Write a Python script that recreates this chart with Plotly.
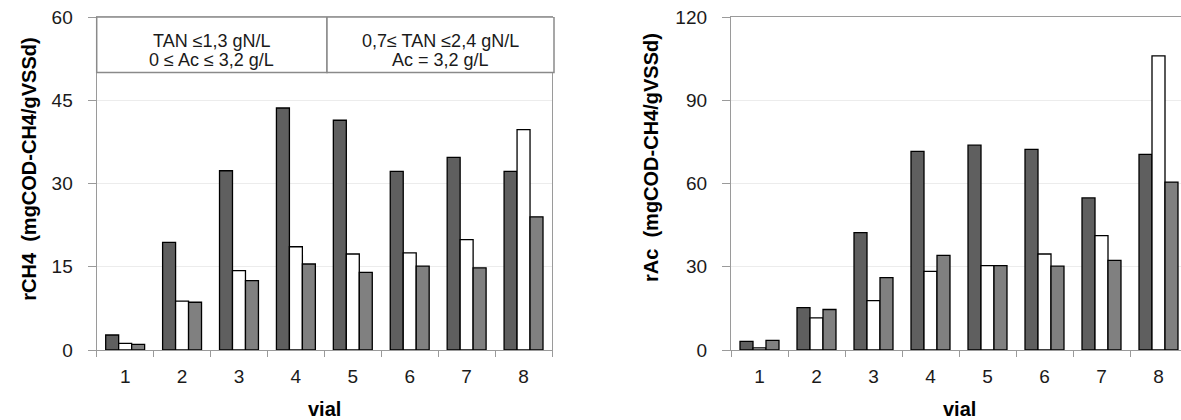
import plotly.graph_objects as go

vials = ["1", "2", "3", "4", "5", "6", "7", "8"]

# Left panel: rCH4 (mgCOD-CH4/gVSSd)
rch4_dark = [2.7, 19.4, 32.3, 43.6, 41.4, 32.2, 34.7, 32.2]
rch4_white = [1.2, 8.8, 14.3, 18.6, 17.3, 17.5, 19.9, 39.7]
rch4_gray = [1.0, 8.6, 12.5, 15.5, 14.0, 15.1, 14.8, 24.0]

# Right panel: rAc (mgCOD-CH4/gVSSd)
rac_dark = [3.1, 15.3, 42.3, 71.6, 73.8, 72.3, 54.8, 70.5]
rac_white = [0.8, 11.6, 17.8, 28.3, 30.4, 34.6, 41.2, 106.0]
rac_gray = [3.5, 14.6, 26.1, 34.1, 30.4, 30.2, 32.3, 60.5]

left_ticks = [0, 15, 30, 45, 60]
right_ticks = [0, 30, 60, 90, 120]

left_ytitle = "<b>rCH4  (mgCOD-CH4/gVSSd)</b>"
right_ytitle = "<b>rAc  (mgCOD-CH4/gVSSd)</b>"
xtitle = "<b>vial</b>"
box_left_lines = ["TAN ≤1,3 gN/L", "0 ≤ Ac ≤ 3,2 g/L"]
box_right_lines = ["0,7≤ TAN ≤2,4 gN/L", "Ac = 3,2 g/L"]

W, H = 1181, 420
T, B = 17, 70
PH = H - T - B
FONT = "Liberation Sans, Arial, sans-serif"
colors = ["#5f5f5f", "#ffffff", "#808080"]


def px(x):
    return x / W


def py(y):
    return (H - B - y) / PH


fig = go.Figure()
for vals, c in zip([rch4_dark, rch4_white, rch4_gray], colors):
    fig.add_trace(go.Bar(x=vials, y=vals, marker=dict(color=c, line=dict(color="#000000", width=1.3)),
                         xaxis="x", yaxis="y", showlegend=False))
for vals, c in zip([rac_dark, rac_white, rac_gray], colors):
    fig.add_trace(go.Bar(x=vials, y=vals, marker=dict(color=c, line=dict(color="#000000", width=1.3)),
                         xaxis="x2", yaxis="y2", showlegend=False))

right_range_end = 7.5 - (1187 - 1181) / 57.0

axis_common = dict(
    showline=True, linecolor="#9a9a9a", linewidth=1.3, automargin=False,
    ticks="outside", tickcolor="#9a9a9a", tickwidth=1.3,
    tickfont=dict(family=FONT, size=19, color="#1a1a1a"),
)

fig.update_layout(
    width=W, height=H,
    margin=dict(l=0, r=0, t=T, b=B),
    paper_bgcolor="white", plot_bgcolor="white",
    barmode="group", bargap=0.316, bargroupgap=0,
    font=dict(family=FONT, color="#000000"),
    xaxis=dict(domain=[px(96.7), px(552)], type="category", range=[-0.5, 7.5], tickson="boundaries",
               ticklen=6, mirror=True, showgrid=False, ticklabelstandoff=9, **axis_common),
    yaxis=dict(domain=[0, 1], range=[0, 60], tickvals=left_ticks, ticklen=8, mirror=True,
               showgrid=True, gridcolor="#ececec", zeroline=False, ticklabelstandoff=11, **axis_common),
    xaxis2=dict(domain=[px(731), 1], type="category", range=[-0.5, right_range_end], tickson="boundaries",
                ticklen=6, mirror=True, showgrid=False, anchor="y2", ticklabelstandoff=9, **axis_common),
    yaxis2=dict(domain=[0, 1], range=[0, 120], tickvals=right_ticks, ticklen=8, mirror=False, anchor="x2",
                showgrid=True, gridcolor="#ececec", zeroline=False, ticklabelstandoff=11, **axis_common),
)

# axis titles
fig.add_annotation(xref="paper", yref="paper", x=px(28.7), y=py(169), text=left_ytitle, textangle=-90,
                   showarrow=False, xanchor="center", yanchor="middle",
                   font=dict(family=FONT, size=20, color="#000"))
fig.add_annotation(xref="paper", yref="paper", x=px(651), y=py(158), text=right_ytitle, textangle=-90,
                   showarrow=False, xanchor="center", yanchor="middle",
                   font=dict(family=FONT, size=20, color="#000"))
for cx in (324, 959):
    fig.add_annotation(xref="paper", yref="paper", x=px(cx), y=py(409), text=xtitle,
                       showarrow=False, xanchor="center", yanchor="middle",
                       font=dict(family=FONT, size=20, color="#000"))

# condition boxes at the top of the left panel
bx0, bxm, bx1 = 96.7, 327, 554
for a, b in [(bx0, bxm), (bxm, bx1)]:
    fig.add_shape(type="rect", xref="paper", yref="y", x0=px(a), x1=px(b), y0=50, y1=60,
                  line=dict(color="#8a8a8a", width=1.5), fillcolor="white", layer="above")
for (a, b), lines in [((bx0, bxm), box_left_lines), ((bxm, bx1), box_right_lines)]:
    for ypix, line in zip((41.5, 60), lines):
        fig.add_annotation(xref="paper", yref="paper", x=px((a + b) / 2), y=py(ypix), text=line,
                           xanchor="center", yanchor="middle", showarrow=False,
                           font=dict(family=FONT, size=18, color="#1a1a1a"))

fig.write_html("out.html", config={"displayModeBar": False},
               post_script="document.body.style.margin='0px';document.body.style.padding='0px';")
